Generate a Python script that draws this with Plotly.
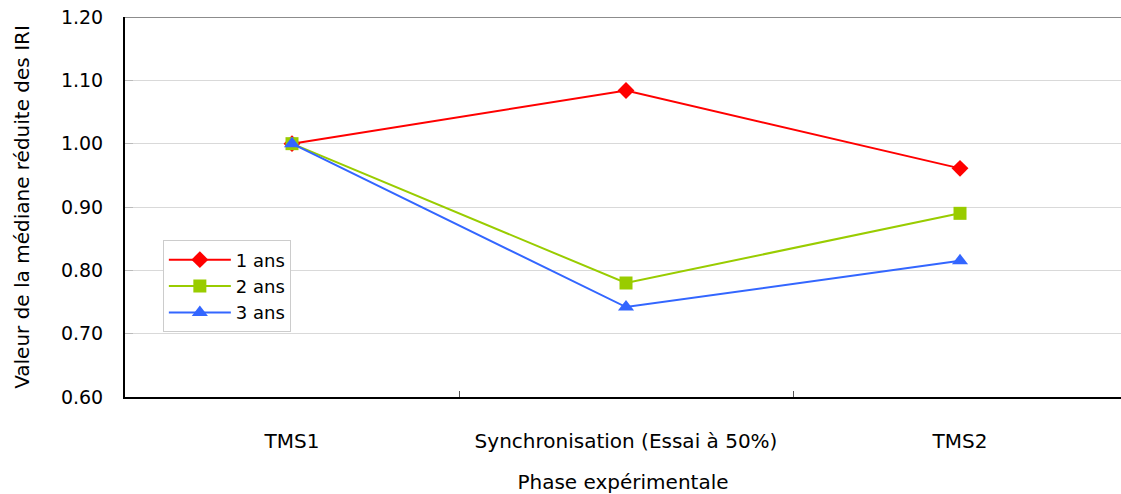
import plotly.graph_objects as go

categories = ["TMS1", "Synchronisation (Essai à 50%)", "TMS2"]
series_names = ["1 ans", "2 ans", "3 ans"]
values_1 = [1.00, 1.084, 0.961]
values_2 = [1.00, 0.780, 0.890]
values_3 = [1.00, 0.742, 0.815]
y_ticks = [0.60, 0.70, 0.80, 0.90, 1.00, 1.10, 1.20]

colors = ["#FF0000", "#99CC00", "#3366FF"]
symbols = ["diamond", "square", "triangle-up"]
sizes = [13, 13, 14]

FONT = "DejaVu Sans"

fig = go.Figure()
for name, vals, c, s, sz in zip(series_names, [values_1, values_2, values_3], colors, symbols, sizes):
    fig.add_trace(go.Scatter(
        x=categories, y=vals, name=name, mode="lines+markers",
        line=dict(color=c, width=2),
        marker=dict(symbol=s, size=sz, color=c),
    ))

fig.update_layout(
    width=1121, height=494,
    margin=dict(l=125, r=0, t=17, b=97),
    paper_bgcolor="white", plot_bgcolor="white",
    font=dict(family=FONT, size=18, color="black"),
    showlegend=True,
    legend=dict(
        x=0.038, y=0.412, xanchor="left", yanchor="top",
        bgcolor="white", bordercolor="#CCCCCC", borderwidth=1,
        font=dict(size=18), tracegroupgap=0, itemwidth=62,
    ),
    xaxis=dict(
        type="category", range=[-0.5, 2.482], automargin=False,
        showgrid=False, showline=True, linecolor="black", linewidth=2,
        ticks="inside", tickson="boundaries", ticklen=6, tickcolor="#555555",
        ticklabelstandoff=25, tickfont=dict(size=20),
        title=dict(text="Phase expérimentale", standoff=28, font=dict(size=20)),
        zeroline=False,
    ),
    yaxis=dict(
        range=[0.60, 1.20], tickvals=y_ticks, tickformat=".2f", automargin=False,
        showgrid=True, gridcolor="#D9D9D9", gridwidth=1,
        showline=True, linecolor="black", linewidth=2,
        ticks="inside", ticklen=8, tickcolor="#BBBBBB",
        ticklabelstandoff=16, tickfont=dict(size=19),
        title=dict(text="Valeur de la médiane réduite des IRI", standoff=26, font=dict(size=20)),
        zeroline=False,
    ),
)

fig.add_shape(type="line", xref="paper", yref="y", x0=0, x1=1, y0=1.20, y1=1.20,
              line=dict(color="#8C8C8C", width=2))

fig.write_html(
    "out.html",
    config={"displayModeBar": False},
    post_script="document.body.style.margin='0';document.body.style.overflow='hidden';",
)
